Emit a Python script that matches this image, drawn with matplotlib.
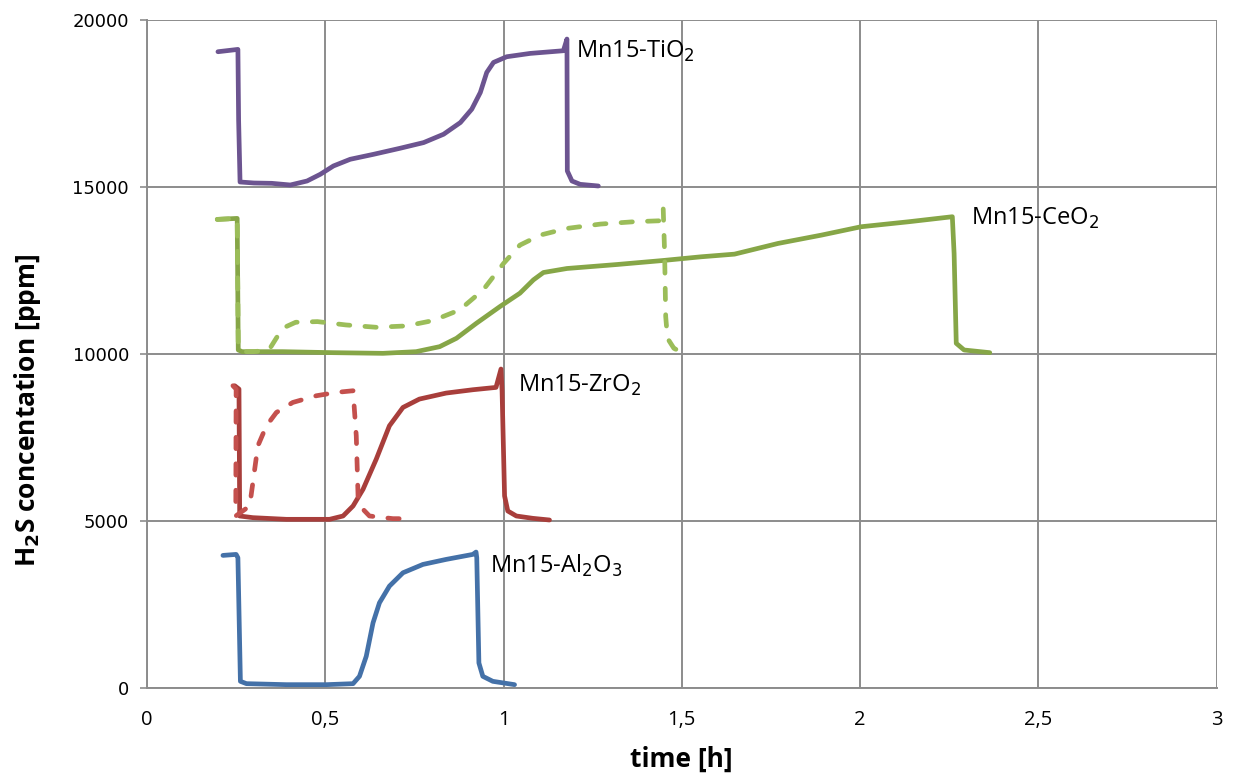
import matplotlib
matplotlib.use("Agg")
import matplotlib.pyplot as plt
from matplotlib.ticker import FuncFormatter

# ---- data (time [h], H2S concentration [ppm]; curves shown with offsets as in the chart) ----
ti_x = [0.199, 0.255, 0.257, 0.261, 0.300, 0.350, 0.402, 0.449, 0.486, 0.523, 0.570,
        0.636, 0.710, 0.776, 0.832, 0.879, 0.911, 0.935, 0.953, 0.972, 1.009, 1.075,
        1.168, 1.178, 1.179, 1.192, 1.215, 1.266]
ti_y = [19050, 19120, 17000, 15150, 15120, 15110, 15060, 15180, 15380, 15630, 15830,
        15980, 16160, 16330, 16580, 16930, 17330, 17830, 18430, 18730, 18900, 19000,
        19080, 19430, 15480, 15180, 15080, 15030]

ce_x = [0.197, 0.253, 0.256, 0.267, 0.380, 0.521, 0.662, 0.755, 0.821, 0.868, 0.924,
        0.990, 1.046, 1.084, 1.112, 1.178, 1.319, 1.448, 1.554, 1.648, 1.770, 1.892,
        2.003, 2.137, 2.259, 2.264, 2.270, 2.292, 2.364]
ce_y = [14030, 14060, 10120, 10070, 10070, 10040, 10020, 10070, 10220, 10470, 10920,
        11420, 11820, 12220, 12440, 12560, 12680, 12800, 12910, 12990, 13310, 13560,
        13810, 13960, 14110, 13000, 10320, 10120, 10040]

ced_x = [0.197, 0.253, 0.256, 0.270, 0.300, 0.342, 0.380, 0.417, 0.478, 0.558, 0.643,
         0.727, 0.802, 0.877, 0.943, 1.000, 1.046, 1.103, 1.178, 1.272, 1.366, 1.441,
         1.448, 1.452, 1.455, 1.460, 1.478, 1.497]
ced_y = [14030, 14060, 10200, 10070, 10070, 10120, 10770, 10950, 10970, 10870, 10800,
         10840, 11000, 11320, 11920, 12710, 13260, 13560, 13760, 13890, 13960, 13990,
         14360, 13000, 11120, 10470, 10170, 10070]

zr_x = [0.246, 0.258, 0.260, 0.297, 0.391, 0.512, 0.550, 0.578, 0.606, 0.643, 0.680,
        0.718, 0.764, 0.839, 0.914, 0.979, 0.993, 0.996, 1.003, 1.012, 1.036, 1.082, 1.129]
zr_y = [9050, 8950, 5150, 5100, 5050, 5050, 5150, 5450, 5950, 6850, 7850,
        8400, 8650, 8830, 8930, 9000, 9550, 8900, 5750, 5300, 5150, 5080, 5030]

zrd_x = [0.241, 0.250, 0.249, 0.288, 0.297, 0.311, 0.335, 0.363, 0.409, 0.475, 0.531,
         0.578, 0.587, 0.592, 0.606, 0.624, 0.690, 0.708]
zrd_y = [9050, 8950, 5150, 5450, 6150, 7250, 7850, 8250, 8550, 8750, 8850,
         8900, 7550, 5750, 5350, 5150, 5070, 5070]

al_x = [0.213, 0.250, 0.255, 0.262, 0.279, 0.391, 0.503, 0.578, 0.596, 0.615, 0.634,
        0.652, 0.680, 0.718, 0.774, 0.839, 0.914, 0.923, 0.925, 0.931, 0.942, 0.970, 1.031]
al_y = [3970, 4000, 3900, 200, 130, 100, 100, 130, 350, 950, 1950,
        2550, 3050, 3450, 3700, 3850, 4000, 4070, 3900, 750, 350, 200, 100]

labels = ["Mn15-TiO$_2$", "Mn15-CeO$_2$", "Mn15-ZrO$_2$", "Mn15-Al$_2$O$_3$"]
label_pos = [(1.204, 19050), (2.311, 14050), (1.041, 9050), (0.962, 3650)]

x_ticks = [0, 0.5, 1, 1.5, 2, 2.5, 3]
y_ticks = [0, 5000, 10000, 15000, 20000]

# ---- figure ----
fig = plt.figure(figsize=(12.34, 7.8), dpi=100)
ax = fig.add_axes([147 / 1234, 92 / 780, (1216.5 - 147) / 1234, (688 - 20) / 780])

lw = 3.4
solid = dict(lw=lw, solid_capstyle="round", solid_joinstyle="round", zorder=3)
dashed = dict(lw=lw, ls=(0, (2.4, 3.2)), dash_capstyle="round", dash_joinstyle="round", zorder=4)
ax.plot(ti_x, ti_y, color="#6c5490", **solid)
ax.plot(ce_x, ce_y, color="#86a647", **solid)
ax.plot(ced_x, ced_y, color="#9bbd59", **dashed)
ax.plot(zr_x, zr_y, color="#a83e3b", **solid)
ax.plot(zrd_x, zrd_y, color="#c4504d", **dashed)
ax.plot(al_x, al_y, color="#4471a8", **solid)

for txt, (lx, ly) in zip(labels, label_pos):
    ax.text(lx, ly, txt, fontsize=17, family="Open Sans", ha="left", va="center", zorder=5)

ax.set_xlim(0, 3)
ax.set_ylim(0, 20000)
ax.set_xticks(x_ticks)
ax.set_yticks(y_ticks)
ax.xaxis.set_major_formatter(FuncFormatter(lambda v, p: ("%g" % v).replace(".", ",")))
ax.grid(True, color="#8c8c8c", lw=1.4)
ax.set_axisbelow(True)
for s in ["top", "right"]:
    ax.spines[s].set_visible(False)
for s in ["left", "bottom"]:
    ax.spines[s].set_color("#8c8c8c")
    ax.spines[s].set_linewidth(1.4)
ax.tick_params(axis="y", length=5, color="#8c8c8c", width=1.2, pad=8, labelsize=13)
ax.tick_params(axis="x", length=0, pad=16, labelsize=14.5)
for t in ax.get_xticklabels():
    t.set_family("Open Sans")
for t in ax.get_yticklabels():
    t.set_family("DejaVu Sans")

ax.set_xlabel("time [h]", fontsize=19, fontweight="bold", family="Open Sans", labelpad=11)
ax.set_ylabel("H$_\\mathbf{2}$S concentation [ppm]", fontsize=19, fontweight="bold",
              family="Open Sans")
ax.yaxis.set_label_coords(-0.097, 0.415)

fig.savefig("out.png", dpi=100)
